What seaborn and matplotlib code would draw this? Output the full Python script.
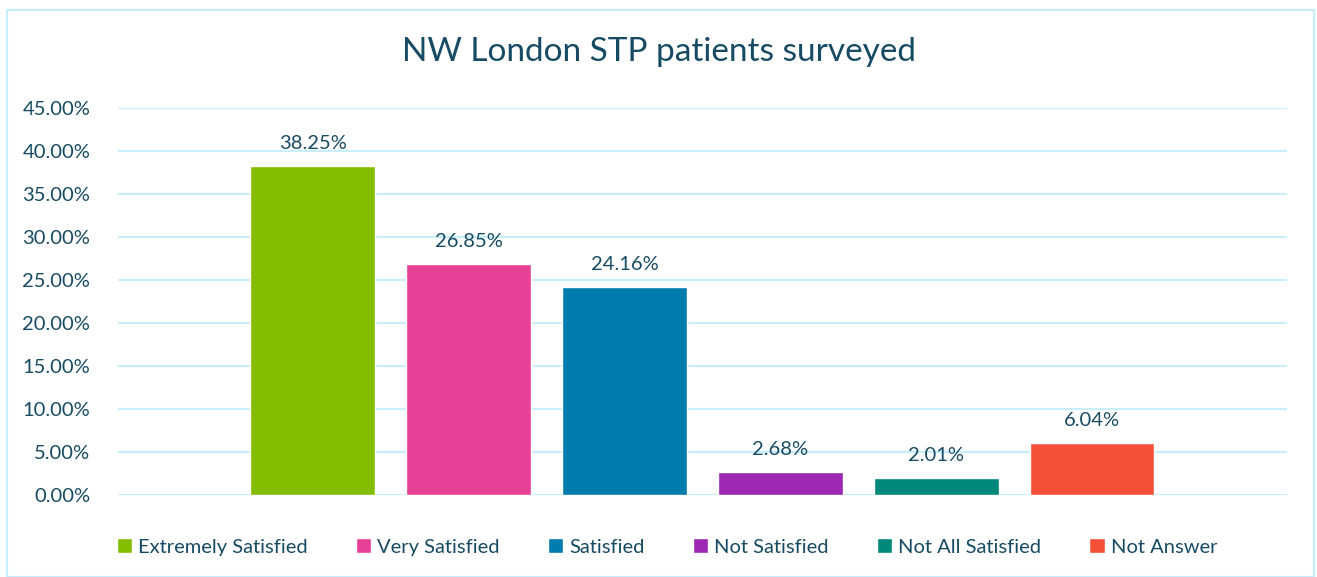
import matplotlib.pyplot as plt
from matplotlib.patches import Rectangle
import pandas as pd
import seaborn as sns

# survey responses, percent of patients
categories = ['Extremely Satisfied', 'Very Satisfied', 'Satisfied',
              'Not Satisfied', 'Not All Satisfied', 'Not Answer']
percentages = [38.25, 26.85, 24.16, 2.68, 2.01, 6.04]
colors = ['#84bd00', '#e74097', '#017cad', '#9b27b3', '#00887a', '#f35037']
y_ticks = [0, 5, 10, 15, 20, 25, 30, 35, 40, 45]

text_color = '#174b63'
grid_color = '#c9eefb'

df = pd.DataFrame({'group': ['all'] * len(categories),
                   'Response': categories,
                   'Percent': percentages})

sns.set_theme(style='white')
plt.rcParams['font.family'] = ['Lato', 'DejaVu Sans']

fig = plt.figure(figsize=(13.17, 5.77), dpi=100)
ax = fig.add_axes([0.0896, 0.1421, 0.8876, 0.6707])

sns.barplot(data=df, x='group', y='Percent', hue='Response', hue_order=categories,
            palette=colors, width=0.8, gap=0.2, saturation=1, ax=ax, legend=True)

ax.set_xlim(-0.5, 0.5)
ax.set_ylim(0, 45)
ax.set_yticks(y_ticks)
ax.set_yticklabels([f'{t:.2f}%' for t in y_ticks], color=text_color, fontsize=14.5)
ax.tick_params(axis='y', length=0, pad=20)
ax.set_xticks([])
ax.set_xlabel('')
ax.set_ylabel('')
ax.yaxis.grid(True, color=grid_color, linewidth=1.6)
ax.set_axisbelow(True)
for side in ax.spines.values():
    side.set_visible(False)

for cont in ax.containers:
    ax.bar_label(cont, labels=[f'{v:.2f}%' for v in cont.datavalues],
                 padding=10, color=text_color, fontsize=14.5)

handles, labels = ax.get_legend_handles_labels()
ax.get_legend().remove()
fig.legend(handles, labels, loc='center', bbox_to_anchor=(0.5065, 0.052), ncol=6,
           frameon=False, fontsize=14.5, labelcolor=text_color,
           handlelength=0.75, handleheight=0.75, handletextpad=0.3, columnspacing=2.4)

fig.suptitle('NW London STP patients surveyed', y=0.91, va='center',
             fontsize=24, color=text_color)

# light border around the chart area
fig.patches.append(Rectangle((0.005, 0.0), 0.993, 0.983, transform=fig.transFigure,
                             fill=False, edgecolor=grid_color, linewidth=1.6))

plt.savefig('out.png', dpi=100)
